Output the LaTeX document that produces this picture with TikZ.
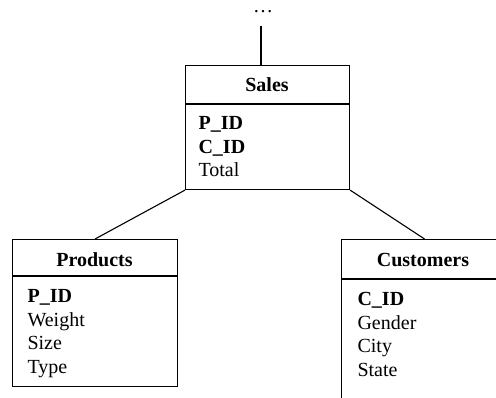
\documentclass[tikz,border=0pt]{standalone}
\usepackage{fontspec}
\setmainfont{Liberation Serif}
\begin{document}
\begin{tikzpicture}[x=1pt,y=-1pt,line width=1.1pt,
  tbl/.style={draw,rectangle,inner sep=0pt,anchor=north west},
  hdr/.style={anchor=base,inner sep=0pt,font=\fontsize{20}{23}\selectfont\bfseries},
  fld/.style={anchor=base west,inner sep=0pt,font=\fontsize{20}{23}\selectfont},
  key/.style={fld,font=\fontsize{20}{23}\selectfont\bfseries}]
\useasboundingbox (0,0) rectangle (496,398);
\clip (0,0) rectangle (496,398);
% Sales
\node[tbl,minimum width=164pt,minimum height=124pt] (sales) at (185,65) {};
\draw (185,104) -- (349,104);
\node[hdr] (salesT) at (267,92) {Sales};
\node[key] (s1) at (198,130) {P\_ID};
\node[key] (s2) at (198,153.5) {C\_ID};
\node[fld] (s3) at (198,177) {Total};
% Products
\node[tbl,minimum width=165pt,minimum height=147pt] (prod) at (12,239) {};
\draw (12,276) -- (177,276);
\node[hdr] (prodT) at (94.5,267) {Products};
\node[key] (p1) at (27,303) {P\_ID};
\node[fld] (p2) at (27,326.5) {Weight};
\node[fld] (p3) at (27,350) {Size};
\node[fld] (p4) at (27,373.5) {Type};
% Customers
\node[tbl,minimum width=166pt,minimum height=190pt] (cust) at (341,239) {};
\draw (341,279) -- (507,279);
\node[hdr] (custT) at (423,267) {Customers};
\node[key] (c1) at (357,306) {C\_ID};
\node[fld] (c2) at (357,329.5) {Gender};
\node[fld] (c3) at (357,353) {City};
\node[fld] (c4) at (357,376.5) {State};
% connectors
\coordinate (top) at (261,26);
\node[anchor=base,inner sep=0pt,text height=3pt,text depth=0pt,font=\fontsize{20}{23}\selectfont] (dots) at (263,13) {\dots};
\draw (top) -- (261,65);
\draw (sales.south west) -- (prod.north);
\draw (sales.south east) -- (cust.north);
\end{tikzpicture}
\end{document}
